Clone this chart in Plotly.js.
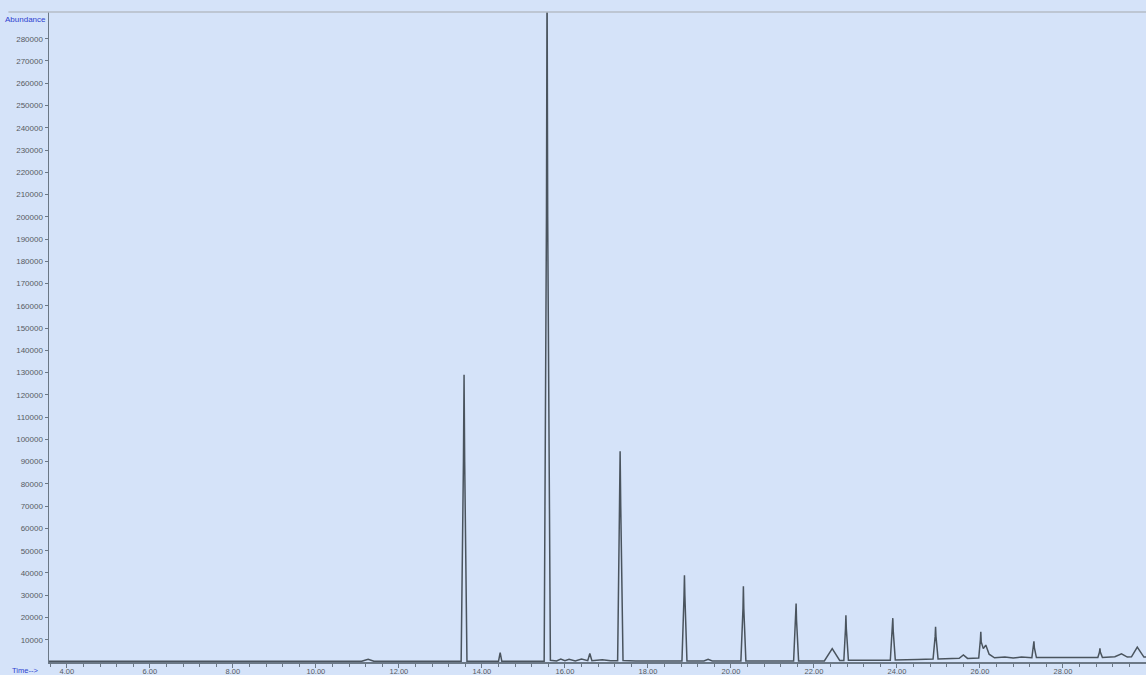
<!DOCTYPE html>
<html>
<head>
<meta charset="utf-8">
<script src="https://cdn.plot.ly/plotly-3.0.1.min.js"></script>
<style>html,body{margin:0;padding:0;background:#d5e3f9;}#chart{width:1146px;height:675px;}</style>
</head>
<body>
<div id="chart"></div>
<script>
// Chromatogram trace vertices (retention time in minutes, abundance)
const times = [
  3.57, 6.0, 9.0, 11.10, 11.26, 11.40, 12.5,
  13.50, 13.555, 13.57, 13.585, 13.64,
  14.40, 14.44, 14.48, 15.0,
  15.50, 15.555, 15.57, 15.585, 15.65,
  15.80, 15.90, 16.00, 16.10, 16.25, 16.40,
  16.55, 16.60, 16.65, 16.90, 17.10,
  17.27, 17.315, 17.33, 17.345, 17.40,
  17.70, 18.20,
  18.82, 18.87, 18.88, 18.89, 18.94,
  19.35, 19.45, 19.55,
  20.24, 20.29, 20.30, 20.31, 20.36,
  21.51, 21.56, 21.57, 21.58, 21.63,
  22.25, 22.44, 22.62,
  22.72, 22.76, 22.77, 22.78, 22.83,
  23.84, 23.89, 23.90, 23.91, 23.96,
  24.50, 24.87, 24.92, 24.93, 24.94, 24.99,
  25.50, 25.60, 25.70,
  25.97, 26.01, 26.02, 26.03, 26.08, 26.14, 26.22, 26.35,
  26.60, 26.80, 27.00,
  27.25, 27.29, 27.30, 27.31, 27.36,
  28.00, 28.84, 28.88, 28.89, 28.90, 28.95,
  29.25, 29.41, 29.55, 29.65, 29.79, 29.95, 30.0
];
const abundance = [
  300, 300, 300, 300, 1200, 300, 300,
  300, 90000, 129000, 90000, 300,
  300, 4200, 300, 300,
  300, 200000, 310000, 200000, 800,
  500, 1300, 600, 1200, 500, 1300,
  600, 3800, 600, 1000, 600,
  600, 70000, 94700, 70000, 700,
  400, 400,
  400, 30000, 39000, 30000, 500,
  500, 1200, 500,
  500, 24000, 34000, 24000, 500,
  500, 19000, 26300, 19000, 500,
  500, 6000, 700,
  700, 15000, 21000, 15000, 800,
  800, 14000, 19700, 14000, 900,
  1100, 1300, 11500, 15800, 11500, 1400,
  1700, 3200, 1600,
  1800, 10000, 13600, 9000, 6000, 7600, 3500, 1900,
  2200, 1800, 2200,
  1900, 6500, 9300, 6500, 2000,
  2000, 2000, 4500, 6100, 4500, 2000,
  2400, 3700, 2200, 2300, 6700, 2200, 2200
];
// Axis ticks
const xTicks = [4, 6, 8, 10, 12, 14, 16, 18, 20, 22, 24, 26, 28];
const xTickText = ["4.00", "6.00", "8.00", "10.00", "12.00", "14.00", "16.00", "18.00", "20.00", "22.00", "24.00", "26.00", "28.00"];
const yTicks = [10000, 20000, 30000, 40000, 50000, 60000, 70000, 80000, 90000, 100000,
  110000, 120000, 130000, 140000, 150000, 160000, 170000, 180000, 190000, 200000,
  210000, 220000, 230000, 240000, 250000, 260000, 270000, 280000];
const yTickText = yTicks.map(v => String(v));

const bg = '#d5e3f9';
const axisCol = '#6b7886';
const tickFont = {family: 'Liberation Sans, Arial, sans-serif', size: 8, color: '#555b62'};

const trace = {
  type: 'scatter', mode: 'lines', x: times, y: abundance,
  line: {color: '#4a545e', width: 1.5},
  hoverinfo: 'x+y', showlegend: false, cliponaxis: true
};

const layout = {
  width: 1146, height: 675,
  margin: {l: 49, r: 0, t: 12, b: 13, pad: 0},
  paper_bgcolor: bg, plot_bgcolor: bg,
  showlegend: false,
  xaxis: {
    range: [3.57, 30.0], tickvals: xTicks, ticktext: xTickText,
    ticks: 'outside', ticklen: 4, tickwidth: 1, tickcolor: axisCol,
    showline: true, linecolor: axisCol, linewidth: 1.5,
    showgrid: false, zeroline: false, tickfont: {family: tickFont.family, size: 7.5, color: tickFont.color},
    ticklabelstandoff: -3,
    minor: {tick0: 4, dtick: 0.4, ticks: 'outside', ticklen: 3, tickwidth: 1, tickcolor: axisCol, showgrid: false}
  },
  yaxis: {
    range: [0, 292000], tickvals: yTicks, ticktext: yTickText,
    ticks: 'outside', ticklen: 3, tickwidth: 1, tickcolor: axisCol,
    showline: true, linecolor: axisCol, linewidth: 1.5,
    showgrid: false, zeroline: false, tickfont: tickFont
  },
  shapes: [
    {type: 'line', xref: 'paper', yref: 'paper', x0: -0.037, x1: 1, y0: 1, y1: 1,
     line: {color: '#b4bcc6', width: 1.5}}
  ],
  annotations: [
    {text: 'Abundance', xref: 'paper', yref: 'paper', x: 0, y: 1, xanchor: 'right', yanchor: 'top',
     xshift: -1, yshift: -1, showarrow: false,
     font: {family: 'Liberation Sans Narrow, Liberation Sans, Arial, sans-serif', size: 8, color: '#2f3fd0'}},
    {text: 'Time-->', xref: 'paper', yref: 'paper', x: 0, y: 0, xanchor: 'right', yanchor: 'top',
     xshift: -9, yshift: -2, showarrow: false,
     font: {family: 'Liberation Sans Narrow, Liberation Sans, Arial, sans-serif', size: 7.5, color: '#2f3fd0'}}
  ]
};

Plotly.newPlot('chart', [trace], layout, {displayModeBar: false, staticPlot: true});
</script>
</body>
</html>
